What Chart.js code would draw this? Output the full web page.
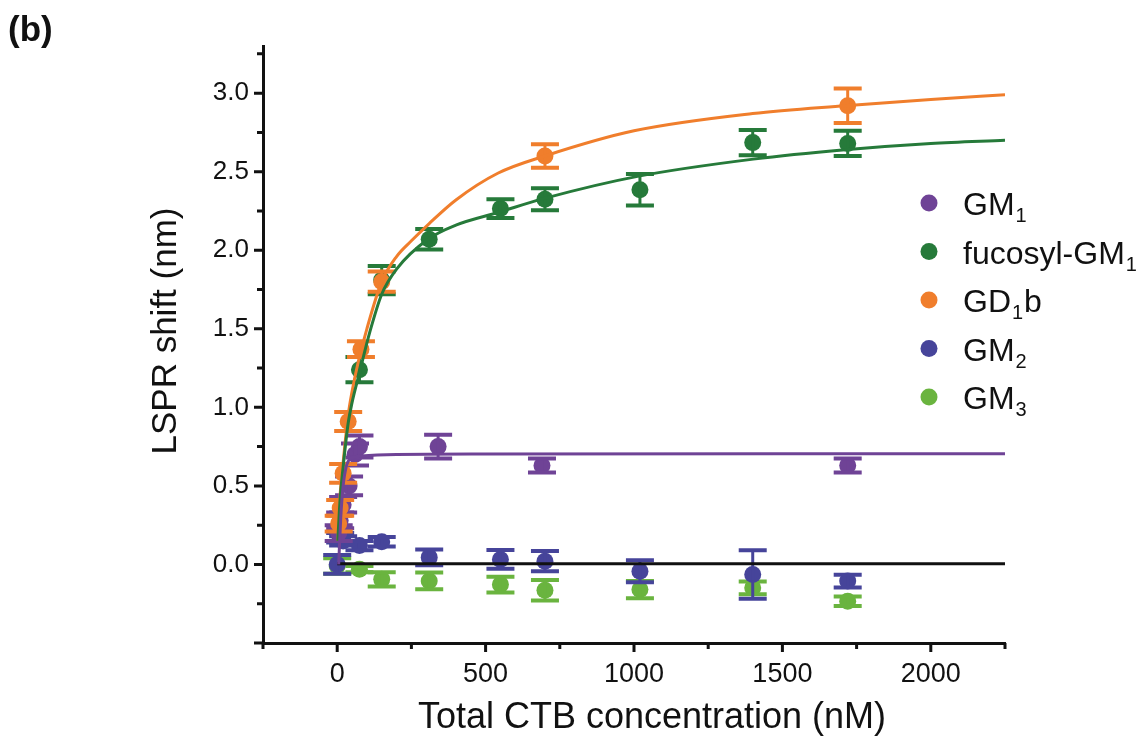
<!DOCTYPE html>
<html>
<head>
<meta charset="utf-8">
<title>LSPR shift vs CTB concentration</title>
<script src="https://cdn.jsdelivr.net/npm/chart.js@4.4.1/dist/chart.umd.min.js"></script>
<style>
  html, body { margin: 0; padding: 0; background: #ffffff; }
  #wrap { position: relative; width: 1147px; height: 740px; }
  #panel-tag {
    position: absolute; left: 8px; top: 9px;
    font: bold 35px "Liberation Sans", Arial, sans-serif; color: #111;
  }
</style>
</head>
<body>
<div id="wrap">
  <div id="panel-tag">(b)</div>
  <canvas id="lspr-chart" width="1147" height="740"></canvas>
</div>
<script>
// measured points: concentration (nM), LSPR shift (nm), error (nm)
const gm1X = [5, 10, 20, 40, 60, 75, 340, 690, 1720];
const gm1Y = [0.20, 0.28, 0.38, 0.50, 0.70, 0.75, 0.75, 0.63, 0.63];
const gm1Err = [0.05, 0.05, 0.05, 0.06, 0.07, 0.07, 0.075, 0.045, 0.045];

const fucX = [75, 150, 310, 550, 700, 1020, 1400, 1720];
const fucY = [1.24, 1.81, 2.07, 2.265, 2.325, 2.385, 2.685, 2.68];
const fucErr = [0.08, 0.09, 0.065, 0.06, 0.07, 0.10, 0.08, 0.08];

const gd1bX = [5, 10, 20, 37, 80, 150, 700, 1720];
const gd1bY = [0.26, 0.36, 0.58, 0.91, 1.37, 1.80, 2.60, 2.92];
const gd1bErr = [0.05, 0.05, 0.06, 0.06, 0.05, 0.065, 0.075, 0.11];

const gm2X = [0, 10, 20, 75, 150, 310, 550, 700, 1020, 1400, 1720];
const gm2Y = [0.0, 0.17, 0.15, 0.12, 0.145, 0.045, 0.032, 0.021, -0.043, -0.064, -0.106];
const gm2Err = [0.06, 0.03, 0.03, 0.03, 0.03, 0.05, 0.06, 0.065, 0.07, 0.155, 0.04];

const gm3X = [0, 75, 150, 310, 550, 700, 1020, 1400, 1720];
const gm3Y = [-0.01, -0.03, -0.095, -0.105, -0.128, -0.164, -0.16, -0.149, -0.234];
const gm3Err = [0.05, 0.02, 0.045, 0.053, 0.05, 0.065, 0.055, 0.04, 0.03];

// fitted binding curves, sampled
const gm1FitX = [5, 12, 20, 30, 45, 80, 200, 500, 2250];
const gm1FitY = [0.0, 0.30, 0.50, 0.62, 0.675, 0.69, 0.70, 0.703, 0.705];

const fucFitX = [2, 10, 20, 37, 50, 75, 110, 150, 200, 306, 400, 541, 698, 1012, 1402, 1711, 2000, 2250];
const fucFitY = [0.15, 0.42, 0.62, 0.90, 1.03, 1.22, 1.48, 1.72, 1.88, 2.07, 2.16, 2.24, 2.33, 2.47, 2.58, 2.64, 2.68, 2.70];

const gd1bFitX = [2, 10, 20, 37, 50, 71, 100, 150, 200, 250, 310, 400, 541, 700, 1000, 1400, 1711, 2000, 2250];
const gd1bFitY = [0.15, 0.45, 0.65, 0.95, 1.10, 1.29, 1.50, 1.80, 1.96, 2.06, 2.17, 2.32, 2.49, 2.60, 2.76, 2.87, 2.92, 2.96, 2.99];

const baseFitX = [0, 2250];
const baseFitY = [0.005, 0.005];

// legend text, "_" marks a one-character subscript
const seriesNames = ['GM_1', 'fucosyl-GM_1', 'GD_1b', 'GM_2', 'GM_3'];
const seriesColors = ['#6f4396', '#267a3a', '#f07e2c', '#46449a', '#6ab43f'];

const xTitle = 'Total CTB concentration (nM)';
const yTitle = 'LSPR shift (nm)';

const FONT = '"Liberation Sans", Arial, sans-serif';

function toPoints(xs, ys) {
    return xs.map((x, i) => ({ x: x, y: ys[i] }));
}

function pointSet(i, xs, ys, errs) {
    return {
        label: seriesNames[i].replace(/_/g, ''),
        data: toPoints(xs, ys),
        yErrors: errs,
        showLine: false,
        pointRadius: 8.5,
        pointHoverRadius: 8.5,
        pointBackgroundColor: seriesColors[i],
        pointBorderWidth: 0,
        borderColor: seriesColors[i],
        order: 2
    };
}

function fitSet(xs, ys, color) {
    return {
        label: 'fit',
        data: toPoints(xs, ys),
        showLine: true,
        pointRadius: 0,
        borderColor: color,
        borderWidth: 3,
        cubicInterpolationMode: 'monotone',
        order: 1
    };
}

// error bars with caps, drawn right after their dataset
const errorBars = {
    id: 'errorBars',
    afterDatasetDraw(chart, args) {
        const ds = chart.data.datasets[args.index];
        if (!ds.yErrors) return;
        const xs = chart.scales.x, ys = chart.scales.y, ctx = chart.ctx;
        ctx.save();
        ctx.strokeStyle = ds.borderColor;
        ds.data.forEach((p, i) => {
            const e = ds.yErrors[i];
            const px = xs.getPixelForValue(p.x);
            const top = ys.getPixelForValue(p.y + e);
            const bot = ys.getPixelForValue(p.y - e);
            ctx.lineWidth = 3;
            ctx.beginPath();
            ctx.moveTo(px, top);
            ctx.lineTo(px, bot);
            ctx.stroke();
            ctx.lineWidth = 4;
            ctx.beginPath();
            ctx.moveTo(px - 14, top);
            ctx.lineTo(px + 14, top);
            ctx.moveTo(px - 14, bot);
            ctx.lineTo(px + 14, bot);
            ctx.stroke();
        });
        ctx.restore();
    }
};

// outward tick marks (long on labelled values) and the two axis titles
const axisDecor = {
    id: 'axisDecor',
    afterDraw(chart) {
        const ctx = chart.ctx, area = chart.chartArea;
        const xs = chart.scales.x, ys = chart.scales.y;
        ctx.save();
        ctx.strokeStyle = '#111';
        ctx.lineWidth = 3;
        ctx.beginPath();
        xs.ticks.forEach(t => {
            const px = xs.getPixelForValue(t.value);
            const len = t.value % 500 === 0 ? 9 : 6;
            ctx.moveTo(px, area.bottom);
            ctx.lineTo(px, area.bottom + len);
        });
        ys.ticks.forEach(t => {
            const py = ys.getPixelForValue(t.value);
            const major = Math.abs(Math.round(t.value * 2) - t.value * 2) < 1e-6;
            const len = major ? 9 : 6;
            ctx.moveTo(area.left, py);
            ctx.lineTo(area.left - len, py);
        });
        ctx.stroke();

        ctx.fillStyle = '#111';
        ctx.textAlign = 'center';
        ctx.textBaseline = 'middle';
        ctx.font = '36px ' + FONT;
        ctx.fillText(xTitle, 652, 718);
        ctx.translate(166, 331);
        ctx.rotate(-Math.PI / 2);
        ctx.font = '35px ' + FONT;
        ctx.fillText(yTitle, 0, 0);
        ctx.restore();
    }
};

// legend inside the plot, with subscripts
const subLegend = {
    id: 'subLegend',
    afterDraw(chart) {
        const ctx = chart.ctx;
        const dotX = 929, textX = 963, firstY = 203, rowGap = 48.5;
        ctx.save();
        ctx.textBaseline = 'alphabetic';
        seriesNames.forEach((name, i) => {
            const y = firstY + i * rowGap;
            ctx.beginPath();
            ctx.fillStyle = seriesColors[i];
            ctx.arc(dotX, y, 8.5, 0, Math.PI * 2);
            ctx.fill();
            ctx.fillStyle = '#111';
            let x = textX;
            name.split('_').forEach((part, j) => {
                let rest = part;
                if (j > 0) {
                    ctx.font = '20px ' + FONT;
                    const s = part.charAt(0);
                    ctx.fillText(s, x + 1, y + 19);
                    x += ctx.measureText(s).width + 2;
                    rest = part.slice(1);
                }
                if (rest) {
                    ctx.font = '32px ' + FONT;
                    ctx.fillText(rest, x, y + 12);
                    x += ctx.measureText(rest).width;
                }
            });
        });
        ctx.restore();
    }
};

new Chart(document.getElementById('lspr-chart'), {
    type: 'scatter',
    data: {
        datasets: [
            fitSet(gm1FitX, gm1FitY, seriesColors[0]),
            fitSet(fucFitX, fucFitY, seriesColors[1]),
            fitSet(gd1bFitX, gd1bFitY, seriesColors[2]),
            fitSet(baseFitX, baseFitY, '#111111'),
            pointSet(2, gd1bX, gd1bY, gd1bErr),
            pointSet(1, fucX, fucY, fucErr),
            pointSet(0, gm1X, gm1Y, gm1Err),
            pointSet(3, gm2X, gm2Y, gm2Err),
            pointSet(4, gm3X, gm3Y, gm3Err)
        ]
    },
    options: {
        responsive: false,
        animation: false,
        layout: { padding: { left: 140, right: 142, top: 46, bottom: 0 } },
        plugins: {
            legend: { display: false },
            tooltip: { enabled: false }
        },
        scales: {
            x: {
                type: 'linear',
                min: -250,
                max: 2250,
                afterFit: s => { s.height = 97; },
                grid: { display: false, drawTicks: true, tickLength: 9 },
                border: { display: true, color: '#111', width: 3 },
                ticks: {
                    stepSize: 250,
                    autoSkip: false,
                    maxRotation: 0,
                    padding: 6,
                    color: '#111',
                    font: { family: FONT, size: 27 },
                    callback: v => (v >= 0 && v % 500 === 0 ? String(v) : '')
                }
            },
            y: {
                type: 'linear',
                min: -0.5,
                max: 3.3,
                afterFit: s => { s.width = 123; },
                grid: { display: false, drawTicks: true, tickLength: 9 },
                border: { display: true, color: '#111', width: 3 },
                ticks: {
                    stepSize: 0.25,
                    includeBounds: false,
                    autoSkip: false,
                    padding: 5,
                    color: '#111',
                    font: { family: FONT, size: 26 },
                    callback: v => {
                        const major = Math.abs(Math.round(v * 2) - v * 2) < 1e-6;
                        return major && v >= 0 ? v.toFixed(1) : '';
                    }
                }
            }
        }
    },
    plugins: [errorBars, axisDecor, subLegend]
});
</script>
</body>
</html>
